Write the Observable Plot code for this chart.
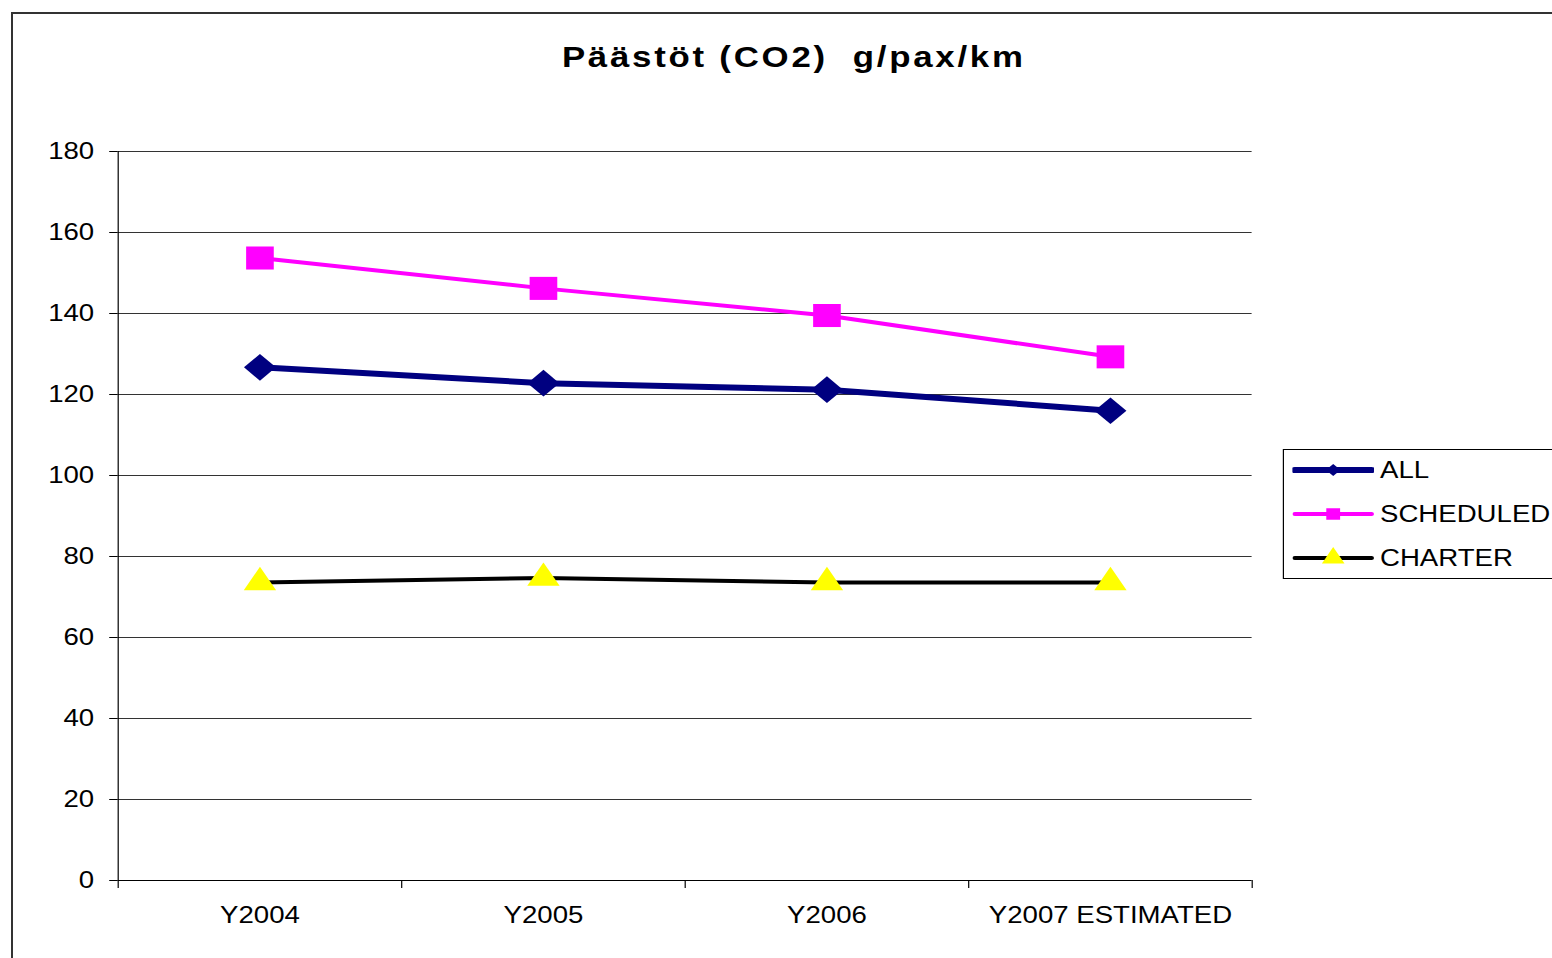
<!DOCTYPE html>
<html>
<head>
<meta charset="utf-8">
<script src="https://cdn.jsdelivr.net/npm/d3@7"></script>
<script src="https://cdn.jsdelivr.net/npm/@observablehq/plot@0.6"></script>
<style>
  body { margin: 0; background: #fff; font-family: "Liberation Sans", Arial, sans-serif; color: #000; }
  #page { position: relative; width: 1552px; height: 958px; overflow: hidden; background: #fff; }
  #frame { position: absolute; left: 11px; top: 12px; width: 1600px; height: 1000px; border: 2px solid #333; box-sizing: border-box; }
  #stretch { position: absolute; left: 0; top: 0; width: 1293px; height: 958px; transform: scaleX(1.2); transform-origin: 0 0; }
  #title { position: absolute; left: 0; top: 43px; width: 1323px; text-align: center; font-weight: bold; font-size: 29px; letter-spacing: 2.3px; white-space: pre; line-height: 29px; }
  #chart { position: absolute; left: 0; top: 120px; }
  #chart svg { max-width: none; }
  #legend { position: absolute; left: 1069px; top: 449px; width: 260px; height: 130px; border: 1px solid #000; box-sizing: border-box; background: #fff; }
  .row { position: absolute; left: 0; height: 30px; width: 260px; }
  .row svg { position: absolute; left: 7px; top: 0; }
  .row span { position: absolute; left: 80px; top: 2px; font-size: 23px; line-height: 26px; white-space: pre; }
</style>
</head>
<body>
<div id="page">
  <div id="frame"></div>
  <div id="stretch">
    <div id="title"></div>
    <div id="chart"></div>
    <div id="legend"></div>
  </div>
</div>
<script>
// ---- data ----
const titleText = "Päästöt (CO2)  g/pax/km";
const categories = ["Y2004", "Y2005", "Y2006", "Y2007 ESTIMATED"];
const seriesNames = ["ALL", "SCHEDULED", "CHARTER"];
const allValues = [126.7, 122.8, 121.2, 116.0];
const scheduledValues = [153.7, 146.2, 139.5, 129.3];
const charterValues = [73.6, 74.7, 73.6, 73.6];
const yTicks = [0, 20, 40, 60, 80, 100, 120, 140, 160, 180];

// ---- styles ----
const seriesStyle = {
  ALL:       {stroke: "#000080", width: 6, symbol: "diamond2", r: 12, fill: "#000080", legendR: 5.5},
  SCHEDULED: {stroke: "#FF00FF", width: 4, symbol: "square",   r: 13, fill: "#FF00FF", legendR: 6.5},
  CHARTER:   {stroke: "#000000", width: 4, symbol: "triangle", r: 10, fill: "#FFFF00", legendR: 7}
};
const seriesValues = {ALL: allValues, SCHEDULED: scheduledValues, CHARTER: charterValues};

const rows = [];
for (const s of seriesNames) {
  categories.forEach((c, i) => rows.push({series: s, cat: c, pos: i + 0.5, value: seriesValues[s][i]}));
}

document.getElementById("title").textContent = titleText;

const drawOrder = ["SCHEDULED", "ALL", "CHARTER"];
const marks = [
  Plot.ruleY(yTicks.filter(d => d > 0), {stroke: "#333", strokeWidth: 1}),
  Plot.axisY({ticks: yTicks, tickSize: 7, tickPadding: 13, fontSize: 23, stroke: "#000", label: null}),
  Plot.axisX({ticks: d3.range(categories.length + 1), tickSize: 8, tickFormat: () => "", stroke: "#000", label: null}),
  Plot.axisX({ticks: categories.map((c, i) => i + 0.5), tickSize: 0, tickPadding: 26, fontSize: 23, label: null,
              tickFormat: d => categories[Math.round(d - 0.5)]}),
  Plot.ruleX([0], {stroke: "#000", strokeWidth: 1}),
  Plot.ruleY([0], {stroke: "#000", strokeWidth: 1})
];
for (const s of drawOrder) {
  const st = seriesStyle[s];
  marks.push(Plot.line(rows.filter(d => d.series === s), {x: "pos", y: "value", stroke: st.stroke, strokeWidth: st.width, strokeLinejoin: "round"}));
}
for (const s of drawOrder) {
  const st = seriesStyle[s];
  marks.push(Plot.dot(rows.filter(d => d.series === s), {x: "pos", y: "value", symbol: st.symbol, r: st.r, fill: st.fill, stroke: "none"}));
}

const chart = Plot.plot({
  width: 1293,
  height: 838,
  marginLeft: 98,
  marginRight: 250,
  marginTop: 31,
  marginBottom: 78,
  x: {domain: [0, categories.length], axis: null},
  y: {domain: [0, 180], axis: null},
  style: {background: "none", overflow: "visible", fontFamily: "'Liberation Sans', Arial, sans-serif", color: "#000"},
  marks
});
document.getElementById("chart").appendChild(chart);

// ---- legend ----
const legend = document.getElementById("legend");
const rowCenters = [20, 64, 108];
seriesNames.forEach((s, i) => {
  const st = seriesStyle[s];
  const row = document.createElement("div");
  row.className = "row";
  row.style.top = (rowCenters[i] - 15) + "px";
  const symType = {diamond2: d3.symbolDiamond2, square: d3.symbolSquare, triangle: d3.symbolTriangle}[st.symbol];
  const path = d3.symbol(symType, Math.PI * st.legendR * st.legendR)();
  row.innerHTML =
    `<svg width="68" height="30" viewBox="0 0 68 30">` +
    `<line x1="2" x2="66" y1="15" y2="15" stroke="${st.stroke}" stroke-width="${st.width}" stroke-linecap="round"/>` +
    `<path d="${path}" transform="translate(34,15)" fill="${st.fill}"/></svg>` +
    `<span>${s}</span>`;
  legend.appendChild(row);
});
</script>
</body>
</html>
